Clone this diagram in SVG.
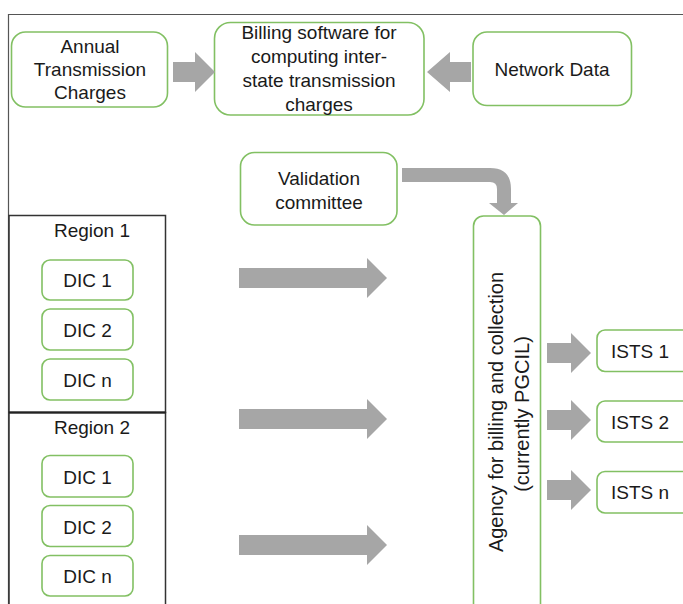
<svg xmlns="http://www.w3.org/2000/svg" width="683" height="604" viewBox="0 0 683 604">
<style>
.node{fill:#fff;stroke:#82c063;stroke-width:1.6}
.t{font-family:"Liberation Sans",Arial,sans-serif;font-size:19px;fill:#1a1a1a;text-anchor:middle}
.tr{font-family:"Liberation Sans",Arial,sans-serif;font-size:20px;fill:#1a1a1a;text-anchor:middle}
.ts{font-family:"Liberation Sans",Arial,sans-serif;font-size:19px;fill:#1a1a1a}
.arr{fill:#a6a6a6}
.frame{fill:none;stroke:#555;stroke-width:1.2}
.region{fill:none;stroke:#333;stroke-width:1.5}
</style>
<rect width="683" height="604" fill="#fff"/>
<path class="frame" d="M8.5,604 L8.5,14.5 L683,14.5"/>
<g id="region1">
<rect class="region" x="9" y="215.5" width="156.5" height="197"/>
<text class="t" x="92" y="237">Region 1</text>
</g>
<g id="region2">
<rect class="region" x="9" y="412.5" width="156.5" height="200"/>
<line x1="9" y1="412.5" x2="165.5" y2="412.5" stroke="#222" stroke-width="2.2"/>
<text class="t" x="92" y="433.5">Region 2</text>
</g>
<g id="annual">
<rect class="node" x="11.5" y="32" width="156" height="75" rx="14"/>
<text class="t" x="90" y="53">Annual</text>
<text class="t" x="90" y="76">Transmission</text>
<text class="t" x="90" y="99">Charges</text>
</g>
<g id="billing">
<rect class="node" x="214.5" y="22.5" width="209.5" height="92.5" rx="16"/>
<text class="t" x="319" y="39">Billing software for</text>
<text class="t" x="319" y="63">computing inter-</text>
<text class="t" x="319" y="87">state transmission</text>
<text class="t" x="319" y="110.5">charges</text>
</g>
<g id="network">
<rect class="node" x="473" y="32" width="158.5" height="73.5" rx="14"/>
<text class="t" x="552" y="76">Network Data</text>
</g>
<g id="validation">
<rect class="node" x="240.5" y="152.5" width="156.5" height="72.5" rx="14"/>
<text class="t" x="319" y="185">Validation</text>
<text class="t" x="319" y="208.5">committee</text>
</g>
<g id="r1dic1"><rect class="node" x="42" y="260" width="91" height="40" rx="8"/><text class="t" x="87.5" y="287">DIC 1</text></g>
<g id="r1dic2"><rect class="node" x="42" y="309" width="91" height="41" rx="8"/><text class="t" x="87.5" y="336.5">DIC 2</text></g>
<g id="r1dicn"><rect class="node" x="42" y="359" width="91" height="41" rx="8"/><text class="t" x="87.5" y="386.5">DIC n</text></g>
<g id="r2dic1"><rect class="node" x="42" y="455.5" width="91" height="41.5" rx="8"/><text class="t" x="87.5" y="484">DIC 1</text></g>
<g id="r2dic2"><rect class="node" x="42" y="505.5" width="91" height="41" rx="8"/><text class="t" x="87.5" y="533.5">DIC 2</text></g>
<g id="r2dicn"><rect class="node" x="42" y="555.5" width="91" height="40.5" rx="8"/><text class="t" x="87.5" y="583">DIC n</text></g>
<g id="agency">
<rect class="node" x="473.5" y="216" width="67" height="410" rx="10"/>
<text class="tr" transform="rotate(-90 502.5 412)" x="502.5" y="412">Agency for billing and collection</text>
<text class="tr" transform="rotate(-90 528.5 414)" x="528.5" y="414">(currently PGCIL)</text>
</g>
<g id="ists1"><rect class="node" x="597" y="330" width="100" height="41.5" rx="8"/><text class="ts" x="611" y="357.5">ISTS 1</text></g>
<g id="ists2"><rect class="node" x="597" y="401" width="100" height="41" rx="8"/><text class="ts" x="611" y="428.5">ISTS 2</text></g>
<g id="istsn"><rect class="node" x="597" y="471.5" width="100" height="41.5" rx="8"/><text class="ts" x="611" y="499">ISTS n</text></g>
<g id="connectors">
<polygon class="arr" points="173,62 195,62 195,52 215,72 195,92 195,82 173,82"/>
<polygon class="arr" points="471,62 450,62 450,52 427,72 450,92 450,82 471,82"/>
<path class="arr" d="M402,168 L490,168 Q511,168 511,189 L511,203 L518,203 L504,215 L489,203 L497,203 L497,189 Q497,182 490,182 L402,182 Z"/>
<polygon class="arr" points="239,268 367,268 367,258 387,278 367,298 367,288 239,288"/>
<polygon class="arr" points="239,409 367,409 367,399 387,419 367,439 367,429 239,429"/>
<polygon class="arr" points="239,535 367,535 367,525 387,545 367,565 367,555 239,555"/>
<polygon class="arr" points="547,343 571,343 571,333 591,353 571,373 571,363 547,363"/>
<polygon class="arr" points="547,410 571,410 571,400 591,420 571,440 571,430 547,430"/>
<polygon class="arr" points="547,480 571,480 571,470 591,490 571,510 571,500 547,500"/>
</g>
</svg>
